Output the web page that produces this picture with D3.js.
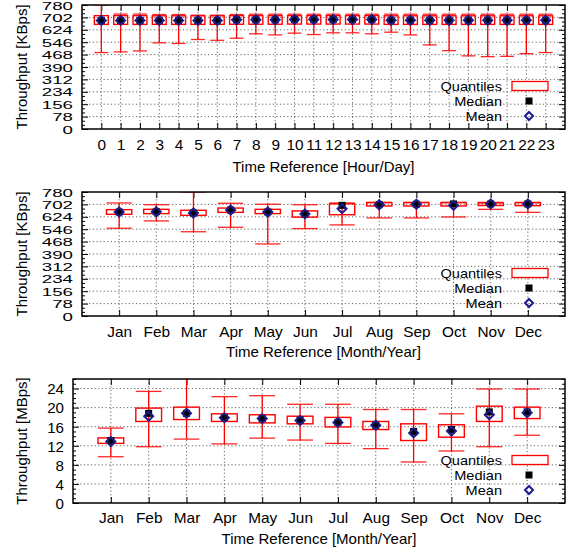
<!DOCTYPE html>
<html>
<head>
<meta charset="utf-8">
<script src="https://cdn.jsdelivr.net/npm/d3@7"></script>
<style>
  html, body { margin: 0; padding: 0; background: #fff; }
  svg { display: block; font-family: "Liberation Sans", Arial, Helvetica, sans-serif; }
</style>
</head>
<body>
<svg id="chart" width="568" height="554"></svg>
<script>
// ---------- data ----------
const hourLabels = ["0","1","2","3","4","5","6","7","8","9","10","11","12","13","14","15","16","17","18","19","20","21","22","23"];
const hourWhiskerHigh = [780,723,723,720,720,716,716,720,722,722,722,722,722,722,722,722,722,722,722,722,722,722,722,722];
const hourQ3 = [713,713,713,712,712,712,712,713,713,713,713,713,713,713,713,712,712,712,712,712,712,712,712,712];
const hourMedian = [683,683,683,683,683,683,683,687,687,687,689,689,689,689,689,684,684,684,684,684,684,684,684,684];
const hourMean = [683,683,683,683,683,683,683,687,687,687,689,689,689,689,689,684,684,684,684,684,684,684,684,684];
const hourQ1 = [658,658,658,658,658,658,658,659,659,659,660,660,660,660,660,658,658,658,658,658,658,658,658,658];
const hourWhiskerLow = [481,485,491,542,538,563,558,571,599,592,603,594,605,605,599,609,592,529,493,460,455,457,474,481];

const monthLabels = ["Jan","Feb","Mar","Apr","May","Jun","Jul","Aug","Sep","Oct","Nov","Dec"];
const kbWhiskerHigh = [711,700,780,709,703,700,711,715,715,715,715,715];
const kbQ3 = [669,671,665,679,671,661,706,713,713,713,711,712];
const kbMedian = [654,656,648,667,654,642,696,700,703,705,705,705];
const kbMean = [654,656,648,667,654,642,675,700,703,696,705,705];
const kbQ1 = [640,644,633,652,644,622,637,692,692,692,695,694];
const kbWhiskerLow = [552,598,530,558,453,550,573,617,617,623,671,652];

const mbWhiskerHigh = [15.7,23.4,26.5,22.3,22.5,20.7,20.7,19.6,19.6,18.7,23.9,23.9];
const mbQ3 = [13.65,19.9,20.1,18.7,18.5,18.2,17.95,17.1,16.6,16.4,20.3,20.1];
const mbMedian = [13.1,18.8,18.8,17.9,17.7,17.4,16.9,16.3,15.0,15.4,19.1,19.1];
const mbMean = [12.9,18.2,18.8,17.9,17.7,17.3,16.9,16.3,14.7,15.1,18.5,18.9];
const mbQ1 = [12.5,17.1,17.5,17.1,16.8,16.6,15.95,15.4,13.1,13.8,17.1,17.7];
const mbWhiskerLow = [9.7,11.8,13.4,12.4,13.6,13.2,12.5,11.4,8.6,10.9,11.8,14.2];

const kbTicks = [0,78,156,234,312,390,468,546,624,702,780];
const mbTicks = [0,4,8,12,16,20,24];

const legendLabels = ["Quantiles","Median","Mean"];

// ---------- drawing ----------
const svg = d3.select("#chart");
const RED = "#ff0000";
const NAVY = "#1c1c8c";

function panel(cfg, idx) {
  const {left, right, top, bottom, labels, xMin, xMax, yMax, yTicks, minorStep,
         wHi, q3, med, mean, q1, wLo, yTitle, xTitle, boxFrac} = cfg;
  const pos = labels.map((d, i) => i + (xMin === -1 ? 0 : 1));
  const x = d3.scaleLinear().domain([xMin, xMax]).range([left, right]);
  const y = d3.scaleLinear().domain([0, yMax]).range([bottom, top]);
  const g = svg.append("g");
  const clipId = "clip" + idx;
  g.append("clipPath").attr("id", clipId).append("rect")
    .attr("x", left).attr("y", top).attr("width", right - left).attr("height", bottom - top);

  // grid
  const grid = g.append("g").attr("stroke", "#555").attr("stroke-width", 0.9)
    .attr("stroke-dasharray", "1.2,2.4").attr("fill", "none");
  yTicks.filter(t => t > 0 && t < yMax).forEach(t => {
    grid.append("line").attr("x1", left).attr("x2", right).attr("y1", y(t)).attr("y2", y(t));
  });
  pos.forEach(p => {
    grid.append("line").attr("x1", x(p)).attr("x2", x(p)).attr("y1", top).attr("y2", bottom);
  });

  // minor ticks (no labels)
  const minors = d3.range(0, yMax + 1e-9, minorStep).filter(v => !yTicks.some(t => Math.abs(t - v) < 1e-6));
  const tickOnly = (axis) => (a) => { a.call(axis); a.select(".domain").remove(); a.selectAll("text").remove(); };
  g.append("g").attr("transform", `translate(${left},0)`)
    .call(tickOnly(d3.axisLeft(y).tickValues(minors).tickSize(-3)));
  g.append("g").attr("transform", `translate(${right},0)`)
    .call(tickOnly(d3.axisRight(y).tickValues(minors).tickSize(-3)));

  // major y ticks + labels
  const ya = g.append("g").attr("transform", `translate(${left},0)`)
    .call(d3.axisLeft(y).tickValues(yTicks).tickSize(-6).tickPadding(9).tickFormat(d3.format("d")));
  ya.select(".domain").remove();
  ya.selectAll("text").attr("font-size", cfg.yFont).attr("font-family", null).attr("fill", "#000")
    .attr("x", -9 / cfg.yStretch).attr("dy", "0.38em")
    .attr("transform", `scale(${cfg.yStretch},1)`);
  g.append("g").attr("transform", `translate(${right},0)`)
    .call(tickOnly(d3.axisRight(y).tickValues(yTicks).tickSize(-6)));

  // x ticks
  const xa = g.append("g").attr("transform", `translate(0,${bottom})`)
    .call(d3.axisBottom(x).tickValues(pos).tickSize(-6).tickPadding(cfg.xPad)
      .tickFormat((d, i) => labels[i]));
  xa.select(".domain").remove();
  xa.selectAll("text").attr("font-size", 14).attr("font-family", null).attr("fill", "#000")
    .attr("transform", "scale(1.1,1)");
  g.append("g").attr("transform", `translate(0,${top})`)
    .call(tickOnly(d3.axisTop(x).tickValues(pos).tickSize(-6)));
  g.selectAll(".tick line").attr("stroke", "#000").attr("stroke-width", 1);

  // boxes
  const step = x(1) - x(0);
  const bw = step * boxFrac;
  const marks = g.append("g").attr("clip-path", `url(#${clipId})`);
  pos.forEach((p, i) => {
    const cx = x(p);
    marks.append("line").attr("x1", cx).attr("x2", cx).attr("y1", y(wLo[i])).attr("y2", y(wHi[i]))
      .attr("stroke", RED).attr("stroke-width", 1.3);
    [wLo[i], wHi[i]].forEach(v => {
      marks.append("line").attr("x1", cx - bw / 2).attr("x2", cx + bw / 2).attr("y1", y(v)).attr("y2", y(v))
        .attr("stroke", RED).attr("stroke-width", 1.3).attr("stroke-opacity", 0.85);
    });
    marks.append("rect").attr("x", cx - bw / 2).attr("y", y(q3[i])).attr("width", bw)
      .attr("height", y(q1[i]) - y(q3[i])).attr("fill", "none").attr("stroke", RED).attr("stroke-width", 1.4);
  });
  pos.forEach((p, i) => {
    const cx = x(p);
    marks.append("rect").attr("x", cx - 3.5).attr("y", y(med[i]) - 3.5).attr("width", 7).attr("height", 7)
      .attr("fill", "#000");
    const cy = y(mean[i]);
    marks.append("path").attr("d", `M${cx},${cy - 4.5}L${cx + 4.5},${cy}L${cx},${cy + 4.5}L${cx - 4.5},${cy}Z`)
      .attr("fill", "none").attr("stroke", NAVY).attr("stroke-width", 2);
  });

  // border
  g.append("rect").attr("x", left).attr("y", top).attr("width", right - left).attr("height", bottom - top)
    .attr("fill", "none").attr("stroke", "#000").attr("stroke-width", 1.5);

  // legend
  const lg = g.append("g");
  const rows = [bottom - 43, bottom - 28, bottom - 13];
  const ls = 1.12;
  legendLabels.forEach((t, i) => {
    lg.append("text").attr("x", 502 / ls).attr("y", rows[i]).attr("dy", "0.36em").attr("text-anchor", "end")
      .attr("transform", `scale(${ls},1)`).attr("font-size", 13).text(t);
  });
  lg.append("rect").attr("x", 512).attr("y", rows[0] - 4.5).attr("width", 36).attr("height", 9)
    .attr("fill", "#fff").attr("stroke", RED).attr("stroke-width", 1.3);
  lg.append("rect").attr("x", 529 - 3.5).attr("y", rows[1] - 3.5).attr("width", 7).attr("height", 7).attr("fill", "#000");
  lg.append("path").attr("d", `M529,${rows[2] - 4}L533,${rows[2]}L529,${rows[2] + 4}L525,${rows[2]}Z`)
    .attr("fill", "none").attr("stroke", NAVY).attr("stroke-width", 2);

  // titles
  g.append("text").attr("transform", `translate(27,${(top + bottom) / 2}) rotate(-90)`)
    .attr("text-anchor", "middle").attr("font-size", 15).text(yTitle);
  g.append("text").attr("x", (left + right) / 2).attr("y", cfg.xTitleY).attr("text-anchor", "middle")
    .attr("font-size", 15).text(xTitle);
}

panel({left: 82, right: 565, top: 5, bottom: 129, labels: hourLabels, xMin: -1, xMax: 24,
  yMax: 780, yTicks: kbTicks, minorStep: 26, wHi: hourWhiskerHigh, q3: hourQ3, med: hourMedian,
  mean: hourMean, q1: hourQ1, wLo: hourWhiskerLow, yTitle: "Throughput [KBps]",
  xTitle: "Time Reference [Hour/Day]", xTitleY: 172, xPad: 11, boxFrac: 0.72,
  yFont: 11, yStretch: 1.7}, 0);

panel({left: 82, right: 565, top: 192, bottom: 316, labels: monthLabels, xMin: 0, xMax: 13,
  yMax: 780, yTicks: kbTicks, minorStep: 26, wHi: kbWhiskerHigh, q3: kbQ3, med: kbMedian,
  mean: kbMean, q1: kbQ1, wLo: kbWhiskerLow, yTitle: "Throughput [KBps]",
  xTitle: "Time Reference [Month/Year]", xTitleY: 357, xPad: 11, boxFrac: 0.68,
  yFont: 11, yStretch: 1.7}, 1);

panel({left: 73, right: 565, top: 379, bottom: 503, labels: monthLabels, xMin: 0, xMax: 13,
  yMax: 26, yTicks: mbTicks, minorStep: 1, wHi: mbWhiskerHigh, q3: mbQ3, med: mbMedian,
  mean: mbMean, q1: mbQ1, wLo: mbWhiskerLow, yTitle: "Throughput [MBps]",
  xTitle: "Time Reference [Month/Year]", xTitleY: 544, xPad: 10, boxFrac: 0.68,
  yFont: 14, yStretch: 1.08}, 2);
</script>
</body>
</html>
